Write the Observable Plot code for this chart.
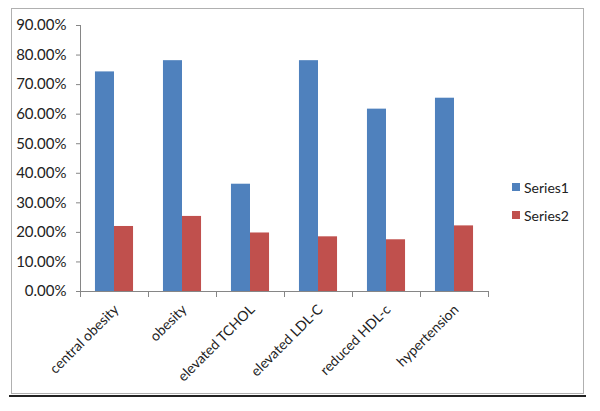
<!DOCTYPE html>
<html>
<head>
<meta charset="utf-8">
<script src="https://cdn.jsdelivr.net/npm/d3@7"></script>
<script src="https://cdn.jsdelivr.net/npm/@observablehq/plot@0.6"></script>
<style>
  html, body { margin: 0; padding: 0; background: #fff; }
  #wrap { position: relative; width: 600px; height: 411px; overflow: hidden; font-family: Lato, "Liberation Sans", Arial, sans-serif; }
  #frame { position: absolute; left: 11px; top: 8px; width: 571px; height: 384px; border: 1px solid #b0b0b0; box-sizing: content-box; }
  #rule { position: absolute; left: 9px; top: 395px; width: 577px; height: 2px; background: #222; }
  #legend { position: absolute; left: 512px; top: 179px; font-size: 14px; color: #222; }
  .item { display: flex; align-items: center; height: 16px; margin-bottom: 12px; }
  .sw { width: 8px; height: 8px; margin-right: 4px; }
  #chart { position: absolute; left: 0; top: 0; }
</style>
</head>
<body>
<div id="wrap">
  <div id="frame"></div>
  <div id="rule"></div>
  <div id="chart"></div>
  <div id="legend"></div>
</div>
<script>
const categories = ["central obesity", "obesity", "elevated TCHOL", "elevated LDL-C", "reduced HDL-c", "hypertension"];
const series1 = [0.743, 0.781, 0.363, 0.781, 0.617, 0.654];
const series2 = [0.220, 0.254, 0.198, 0.185, 0.175, 0.222];
const seriesNames = ["Series1", "Series2"];
const seriesColors = ["#4F81BD", "#C0504D"];
const yTicks = [0, 0.1, 0.2, 0.3, 0.4, 0.5, 0.6, 0.7, 0.8, 0.9];

const groupWidth = 0.56;
const barW = groupWidth / 2;
const rows = [];
categories.forEach((c, i) => {
  [series1, series2].forEach((s, k) => {
    const x1 = i + (1 - groupWidth) / 2 + k * barW;
    rows.push({cat: c, series: seriesNames[k], value: s[i], x1, x2: x1 + barW});
  });
});

const plot = Plot.plot({
  width: 600,
  height: 411,
  marginLeft: 80,
  marginRight: 112,
  marginTop: 25,
  marginBottom: 120,
  style: {fontFamily: "Lato, 'Liberation Sans', Arial, sans-serif", fontSize: "14px", color: "#222", background: "transparent", overflow: "visible"},
  x: {domain: [0, categories.length], axis: null},
  y: {domain: [0, 0.9], axis: null},
  color: {domain: seriesNames, range: seriesColors},
  marks: [
    Plot.rectY(rows, {x1: "x1", x2: "x2", y: "value", fill: "series"}),
    Plot.ruleX([0], {stroke: "#868686"}),
    Plot.ruleY([0], {stroke: "#868686"}),
    Plot.axisY({ticks: yTicks, tickFormat: d3.format(".2%"), label: null, tickSize: 4, tickPadding: 10, stroke: "#868686", fill: "#222", fontSize: 15}),
    Plot.axisX({ticks: d3.range(categories.length + 1), tickFormat: () => "", label: null, tickSize: 6, stroke: "#868686"}),
    Plot.text(categories, {x: (d, i) => i + 0.5, frameAnchor: "bottom", text: d => d, rotate: -45, textAnchor: "end", dx: 5, dy: 19, fontSize: 14, fill: "#222"})
  ]
});
document.getElementById("chart").appendChild(plot);

const legend = document.getElementById("legend");
seriesNames.forEach((n, k) => {
  const it = document.createElement("div");
  it.className = "item";
  const sw = document.createElement("div");
  sw.className = "sw";
  sw.style.background = seriesColors[k];
  const t = document.createElement("span");
  t.textContent = n;
  it.appendChild(sw); it.appendChild(t);
  legend.appendChild(it);
});
</script>
</body>
</html>
